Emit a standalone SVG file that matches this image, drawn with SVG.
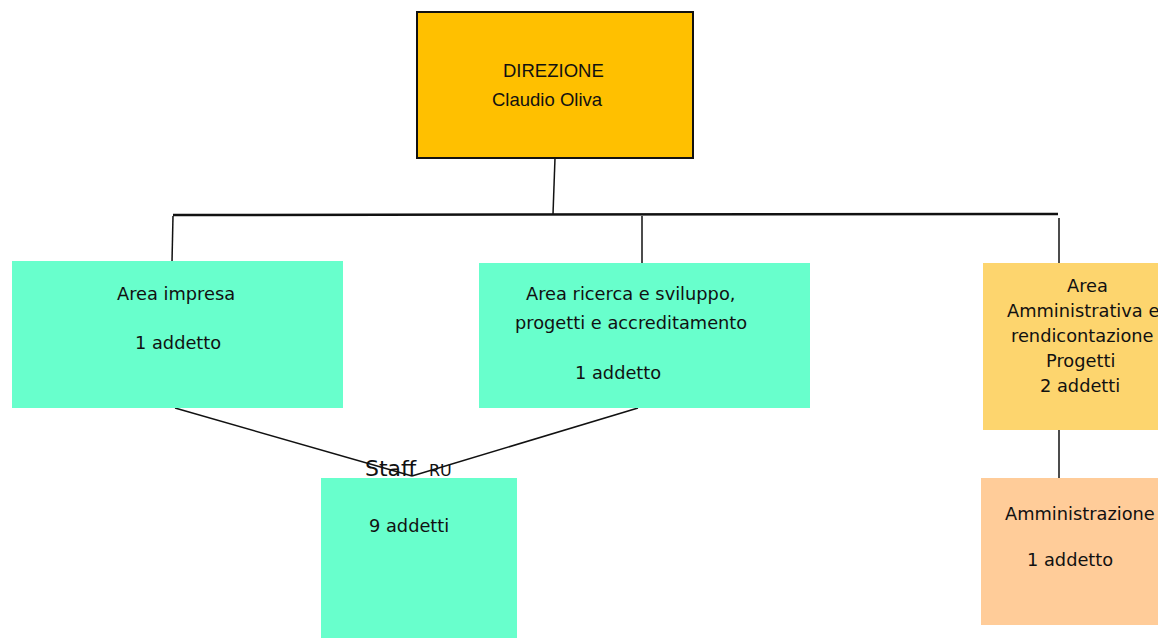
<svg xmlns="http://www.w3.org/2000/svg" width="1158" height="638" viewBox="0 0 1158 638">
<style>
.t{font-family:"DejaVu Sans",sans-serif;font-size:17.8px;fill:#111}
.a{font-family:"Liberation Sans",Arial,sans-serif;font-size:18.5px;fill:#111}
.ln{stroke:#111;stroke-width:1.5;fill:none}
.green{fill:#68FFCC}
</style>
<rect width="1158" height="638" fill="#fff"/>
<g id="connectors">
<line class="ln" x1="555" y1="158" x2="553" y2="214"/>
<line x1="173" y1="215" x2="1058" y2="214" stroke="#111" stroke-width="2.5"/>
<line class="ln" x1="173" y1="216" x2="172" y2="262"/>
<line class="ln" x1="642" y1="216" x2="642" y2="264"/>
<line class="ln" x1="1059" y1="218" x2="1059" y2="264"/>
<line class="ln" x1="1059" y1="409" x2="1059" y2="479"/>
<line class="ln" x1="175" y1="408" x2="412" y2="476"/>
<line class="ln" x1="638" y1="408" x2="412" y2="476"/>
</g>
<g id="direzione">
<rect x="417" y="12" width="276" height="146" fill="#FFC000" stroke="#111" stroke-width="2"/>
<text class="a" x="503" y="77">DIREZIONE</text>
<text class="a" x="492" y="106">Claudio Oliva</text>
</g>
<g id="area-impresa">
<rect class="green" x="12" y="261" width="331" height="147"/>
<text class="t" x="117" y="300">Area impresa</text>
<text class="t" x="135" y="349">1 addetto</text>
</g>
<g id="area-ricerca">
<rect class="green" x="479" y="263" width="331" height="145"/>
<text class="t" x="526" y="300">Area ricerca e sviluppo,</text>
<text class="t" x="515" y="329">progetti e accreditamento</text>
<text class="t" x="575" y="379">1 addetto</text>
</g>
<g id="area-amministrativa">
<rect x="983" y="263" width="175" height="167" fill="#FDD56E"/>
<text class="t" x="1067" y="292">Area</text>
<text class="t" x="1007" y="317">Amministrativa e</text>
<text class="t" x="1011" y="342">rendicontazione</text>
<text class="t" x="1046" y="367">Progetti</text>
<text class="t" x="1040" y="392">2 addetti</text>
</g>
<g id="amministrazione">
<rect x="981" y="478" width="177" height="147" fill="#FFCC99"/>
<text class="t" x="1005" y="520">Amministrazione</text>
<text class="t" x="1027" y="566">1 addetto</text>
</g>
<g id="staff">
<rect class="green" x="321" y="478" width="196" height="160"/>
<text class="t" x="365" y="476" style="font-size:22px">Staff</text>
<text class="t" x="429" y="476" style="font-size:16px">RU</text>
<text class="t" x="369" y="532">9 addetti</text>
</g>
</svg>
